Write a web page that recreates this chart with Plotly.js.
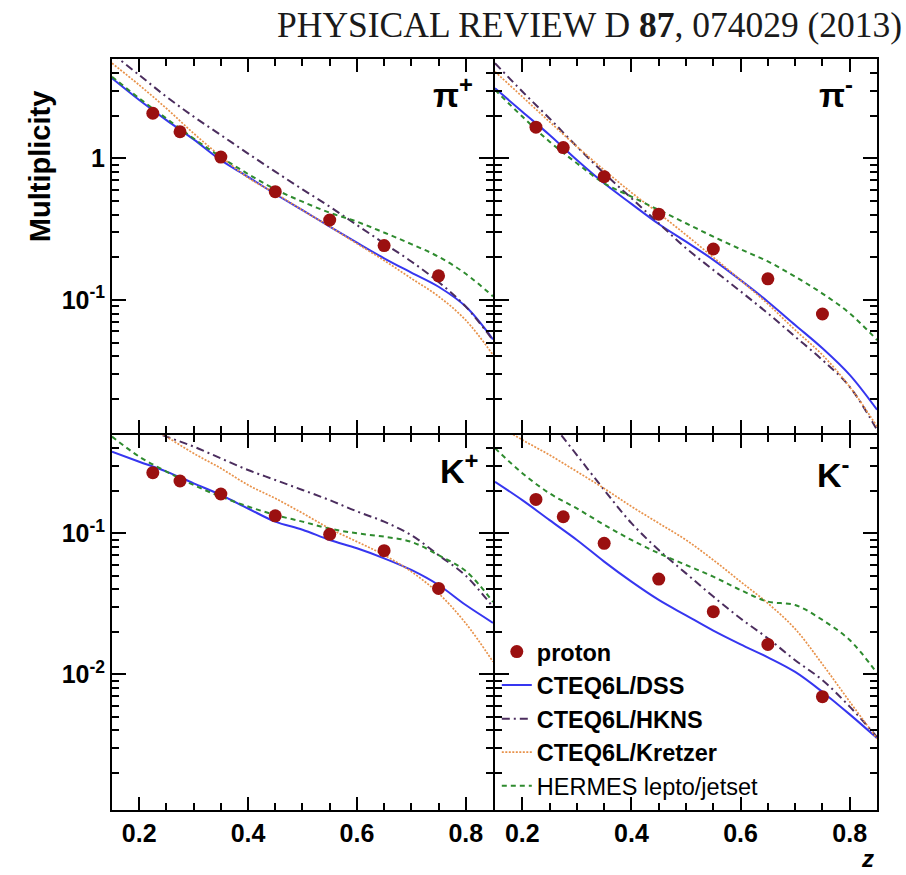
<!DOCTYPE html>
<html>
<head>
<meta charset="utf-8">
<script src="https://cdn.plot.ly/plotly-3.0.1.min.js"></script>
<style>
  html, body { margin: 0; padding: 0; background: #fff; }
  #chart { width: 906px; height: 875px; }
</style>
</head>
<body>
<div id="chart"></div>
<script>
// z values: measured bins and the fine grid used for the model curves
const zData = [0.225, 0.275, 0.35, 0.45, 0.55, 0.65, 0.75];
const zGrid = [0.15, 0.20, 0.25, 0.30, 0.35, 0.40, 0.45, 0.50, 0.55, 0.60, 0.65, 0.70, 0.75, 0.80, 0.85];

// pi+ on proton
const piPlusData    = [2.08, 1.54, 1.02, 0.581, 0.367, 0.242, 0.148];
const piPlusDSS     = [3.67, 2.58, 1.86, 1.36, 0.97, 0.74, 0.56, 0.43, 0.33, 0.254, 0.197, 0.156, 0.124, 0.0898, 0.0527];
const piPlusHKNS    = [5.5, 3.87, 2.72, 1.97, 1.46, 1.08, 0.805, 0.604, 0.456, 0.338, 0.251, 0.187, 0.134, 0.0898, 0.052];
const piPlusKretzer = [4.69, 3.29, 2.25, 1.50, 1.03, 0.73, 0.566, 0.43, 0.33, 0.25, 0.19, 0.142, 0.106, 0.072, 0.041];
const piPlusHermes  = [3.77, 2.65, 1.91, 1.38, 1.02, 0.775, 0.604, 0.494, 0.413, 0.357, 0.299, 0.248, 0.202, 0.153, 0.106];

// pi- on proton
const piMinusData    = [1.66, 1.19, 0.742, 0.403, 0.229, 0.141, 0.0796];
const piMinusDSS     = [3.12, 2.13, 1.46, 0.973, 0.666, 0.477, 0.344, 0.258, 0.192, 0.138, 0.0973, 0.0666, 0.0456, 0.0296, 0.0168];
const piMinusHKNS    = [4.69, 2.96, 1.91, 1.21, 0.784, 0.522, 0.348, 0.232, 0.163, 0.115, 0.0805, 0.0551, 0.0377, 0.0244, 0.0121];
const piMinusKretzer = [4.09, 2.72, 1.81, 1.21, 0.827, 0.573, 0.409, 0.288, 0.2, 0.138, 0.0937, 0.0614, 0.0409, 0.0244, 0.0128];
const piMinusHermes  = [3.04, 1.97, 1.31, 0.922, 0.666, 0.536, 0.432, 0.348, 0.28, 0.228, 0.187, 0.146, 0.111, 0.0805, 0.0522];

// K+ on proton
const kPlusData    = [0.269, 0.235, 0.19, 0.133, 0.0984, 0.0753, 0.0407];
const kPlusDSS     = [0.379, 0.322, 0.274, 0.226, 0.187, 0.150, 0.121, 0.106, 0.0897, 0.0783, 0.0665, 0.055, 0.043, 0.031, 0.0232];
const kPlusHKNS    = [0.67, 0.57, 0.485, 0.412, 0.34, 0.281, 0.239, 0.203, 0.172, 0.143, 0.121, 0.097, 0.070, 0.050, 0.030];
const kPlusKretzer = [0.84, 0.64, 0.485, 0.369, 0.289, 0.22, 0.177, 0.139, 0.108, 0.0873, 0.0702, 0.0535, 0.0375, 0.023, 0.0123];
const kPlusHermes  = [0.485, 0.35, 0.274, 0.220, 0.182, 0.155, 0.135, 0.121, 0.108, 0.1, 0.0947, 0.087, 0.070, 0.054, 0.0326];

// K- on proton
const kMinusData    = [0.174, 0.131, 0.0849, 0.0474, 0.0278, 0.0163, 0.00695];
const kMinusDSS     = [0.232, 0.172, 0.124, 0.0897, 0.063, 0.0454, 0.0337, 0.0262, 0.0204, 0.0163, 0.0132, 0.0104, 0.0075, 0.0052, 0.00353];
const kMinusHKNS    = [1.99, 1.12, 0.633, 0.359, 0.203, 0.118, 0.0762, 0.052, 0.0356, 0.0249, 0.018, 0.0126, 0.0091, 0.0059, 0.0036];
const kMinusKretzer = [0.60, 0.46, 0.359, 0.274, 0.208, 0.155, 0.118, 0.0897, 0.0647, 0.0454, 0.0319, 0.0210, 0.0118, 0.0064, 0.0035];
const kMinusHermes  = [0.401, 0.267, 0.192, 0.150, 0.115, 0.0897, 0.0722, 0.0596, 0.0493, 0.0396, 0.0328, 0.031, 0.0243, 0.0175, 0.0102];

// legend names and panel labels
const seriesNames = ['<b>proton</b>', '<b>CTEQ6L/DSS</b>', '<b>CTEQ6L/HKNS</b>', '<b>CTEQ6L/Kretzer</b>', 'HERMES lepto/jetset'];
const panelLabels = ['π<sup>+</sup>', 'π<sup>-</sup>', 'K<sup>+</sup>', 'K<sup>-</sup>'];
const xTickVals = [0.2, 0.4, 0.6, 0.8];
const xTickText = ['0.2', '0.4', '0.6', '0.8'];
const yTickVals = [0.001, 0.01, 0.1, 1];
const yTickText = ['10<sup>-3</sup>', '10<sup>-2</sup>', '10<sup>-1</sup>', '1'];

const SANS = 'Liberation Sans, Arial, Helvetica, sans-serif';
const SERIF = 'Liberation Serif, Times New Roman, serif';

const styles = {
  data:    { mode: 'markers', marker: { size: 13, color: '#9b1010' } },
  dss:     { mode: 'lines', line: { color: '#3636f0', width: 2, shape: 'spline' } },
  hkns:    { mode: 'lines', line: { color: '#4b2d5e', width: 2, dash: '8px,4px,2px,4px', shape: 'spline' } },
  kretzer: { mode: 'lines', line: { color: '#e8924a', width: 1.7, dash: '2px,1.5px', shape: 'spline' } },
  hermes:  { mode: 'lines', line: { color: '#2e8b2e', width: 2, dash: '5px,4px', shape: 'spline' } }
};

const panels = [
  { xa: 'x',  ya: 'y',  d: piPlusData,  dss: piPlusDSS,  hkns: piPlusHKNS,  kr: piPlusKretzer,  he: piPlusHermes },
  { xa: 'x2', ya: 'y2', d: piMinusData, dss: piMinusDSS, hkns: piMinusHKNS, kr: piMinusKretzer, he: piMinusHermes },
  { xa: 'x3', ya: 'y3', d: kPlusData,   dss: kPlusDSS,   hkns: kPlusHKNS,   kr: kPlusKretzer,   he: kPlusHermes },
  { xa: 'x4', ya: 'y4', d: kMinusData,  dss: kMinusDSS,  hkns: kMinusHKNS,  kr: kMinusKretzer,  he: kMinusHermes }
];

const traces = [];
panels.forEach((p, i) => {
  const legend = (i === 0);
  const curves = [
    [zGrid, p.dss, styles.dss, 1],
    [zGrid, p.hkns, styles.hkns, 2],
    [zGrid, p.kr, styles.kretzer, 3],
    [zGrid, p.he, styles.hermes, 4]
  ];
  curves.forEach(([xs, ys, st, k]) => {
    traces.push(Object.assign({
      type: 'scatter', x: xs, y: ys, xaxis: p.xa, yaxis: p.ya,
      name: seriesNames[k], legendgroup: 'g' + k, legendrank: k + 1,
      showlegend: legend, hoverinfo: 'skip'
    }, JSON.parse(JSON.stringify(st))));
  });
  traces.push(Object.assign({
    type: 'scatter', x: zData, y: p.d, xaxis: p.xa, yaxis: p.ya,
    name: seriesNames[0], legendgroup: 'g0', legendrank: 1,
    showlegend: legend, cliponaxis: true
  }, JSON.parse(JSON.stringify(styles.data))));
});

// minor tick positions on the log axes (2..9 times each decade)
const yMinor = [];
[0.001, 0.01, 0.1, 1].forEach(dec => {
  for (let m = 2; m <= 9; m++) yMinor.push(+(m * dec).toPrecision(3));
});

const tickFont = { family: SANS, size: 25, weight: 'bold', color: '#000' };

function xAxis(domain, anchor, labels) {
  return {
    domain: domain, anchor: anchor, range: [0.15, 0.85],
    tickmode: 'array', tickvals: xTickVals, ticktext: xTickText,
    showticklabels: labels, tickfont: tickFont,
    ticks: 'inside', ticklen: 13, tickwidth: 2, tickcolor: '#000',
    minor: { ticks: 'inside', ticklen: 7, tickwidth: 2, tickcolor: '#000', dtick: 0.05, tick0: 0.15 },
    showline: true, linewidth: 2, linecolor: '#000', mirror: 'allticks',
    showgrid: false, zeroline: false, fixedrange: true
  };
}
function yAxis(domain, anchor, range, labels) {
  return {
    domain: domain, anchor: anchor, type: 'log', range: range,
    tickmode: 'array', tickvals: yTickVals, ticktext: yTickText,
    showticklabels: labels, tickfont: tickFont,
    ticks: 'inside', ticklen: 14, tickwidth: 2, tickcolor: '#000',
    minor: { ticks: 'inside', ticklen: 7, tickwidth: 2, tickcolor: '#000', tickmode: 'array', tickvals: yMinor },
    showline: true, linewidth: 2, linecolor: '#000', mirror: 'allticks',
    showgrid: false, zeroline: false, fixedrange: true
  };
}

// panel domains: the shared frame lines of neighbouring panels are laid on top of each other
const xL = [0, 0.498], xR = [0.5007, 1];
const yT = [0.502, 1], yB = [0, 0.4993];
const topRange = [-1.939, 0.701];
const botRange = [-2.962, -0.303];

function ann(text, x, y, opts) {
  return Object.assign({ text: text, x: x, y: y, xref: 'paper', yref: 'paper', showarrow: false }, opts);
}
const panelFont = { family: SANS, size: 34, weight: 'bold', color: '#000' };

const layout = {
  width: 906, height: 875,
  margin: { l: 112, r: 29, t: 59, b: 65 },
  paper_bgcolor: '#fff', plot_bgcolor: '#fff',
  showlegend: true,
  legend: {
    x: 0.503, xanchor: 'left', y: 0.24, yanchor: 'top',
    bgcolor: 'rgba(0,0,0,0)', borderwidth: 0, tracegroupgap: 0,
    traceorder: 'normal',
    font: { family: SANS, size: 23.5, color: '#000' }
  },
  xaxis: xAxis(xL, 'y', false),
  yaxis: yAxis(yT, 'x', topRange, true),
  xaxis2: xAxis(xR, 'y2', false),
  yaxis2: yAxis(yT, 'x2', topRange, false),
  xaxis3: xAxis(xL, 'y3', true),
  yaxis3: yAxis(yB, 'x3', botRange, true),
  xaxis4: xAxis(xR, 'y4', true),
  yaxis4: yAxis(yB, 'x4', botRange, false),
  annotations: [
    ann('PHYSICAL REVIEW D <b>87</b>, 074029 (2013)', 0.2131, 1.0453,
        { xanchor: 'left', yanchor: 'middle', font: { family: SERIF, size: 35.5, color: '#1a1a1a' } }),
    ann('Multiplicity', -0.0941, 0.856,
        { textangle: -90, xanchor: 'center', yanchor: 'middle', font: { family: SANS, size: 29, weight: 'bold', color: '#000' } }),
    ann(panelLabels[0], 0.475, 0.955, { xanchor: 'right', yanchor: 'middle', font: panelFont }),
    ann(panelLabels[1], 0.971, 0.955, { xanchor: 'right', yanchor: 'middle', font: panelFont }),
    ann(panelLabels[2], 0.481, 0.455, { xanchor: 'right', yanchor: 'middle', font: panelFont }),
    ann(panelLabels[3], 0.967, 0.450, { xanchor: 'right', yanchor: 'middle', font: panelFont }),
    ann('<i>z</i>', 0.988, -0.0852, { xanchor: 'center', yanchor: 'bottom', font: { family: SANS, size: 24, weight: 'bold', color: '#000' } })
  ]
};

Plotly.newPlot('chart', traces, layout, { displayModeBar: false, staticPlot: true });
</script>
</body>
</html>
